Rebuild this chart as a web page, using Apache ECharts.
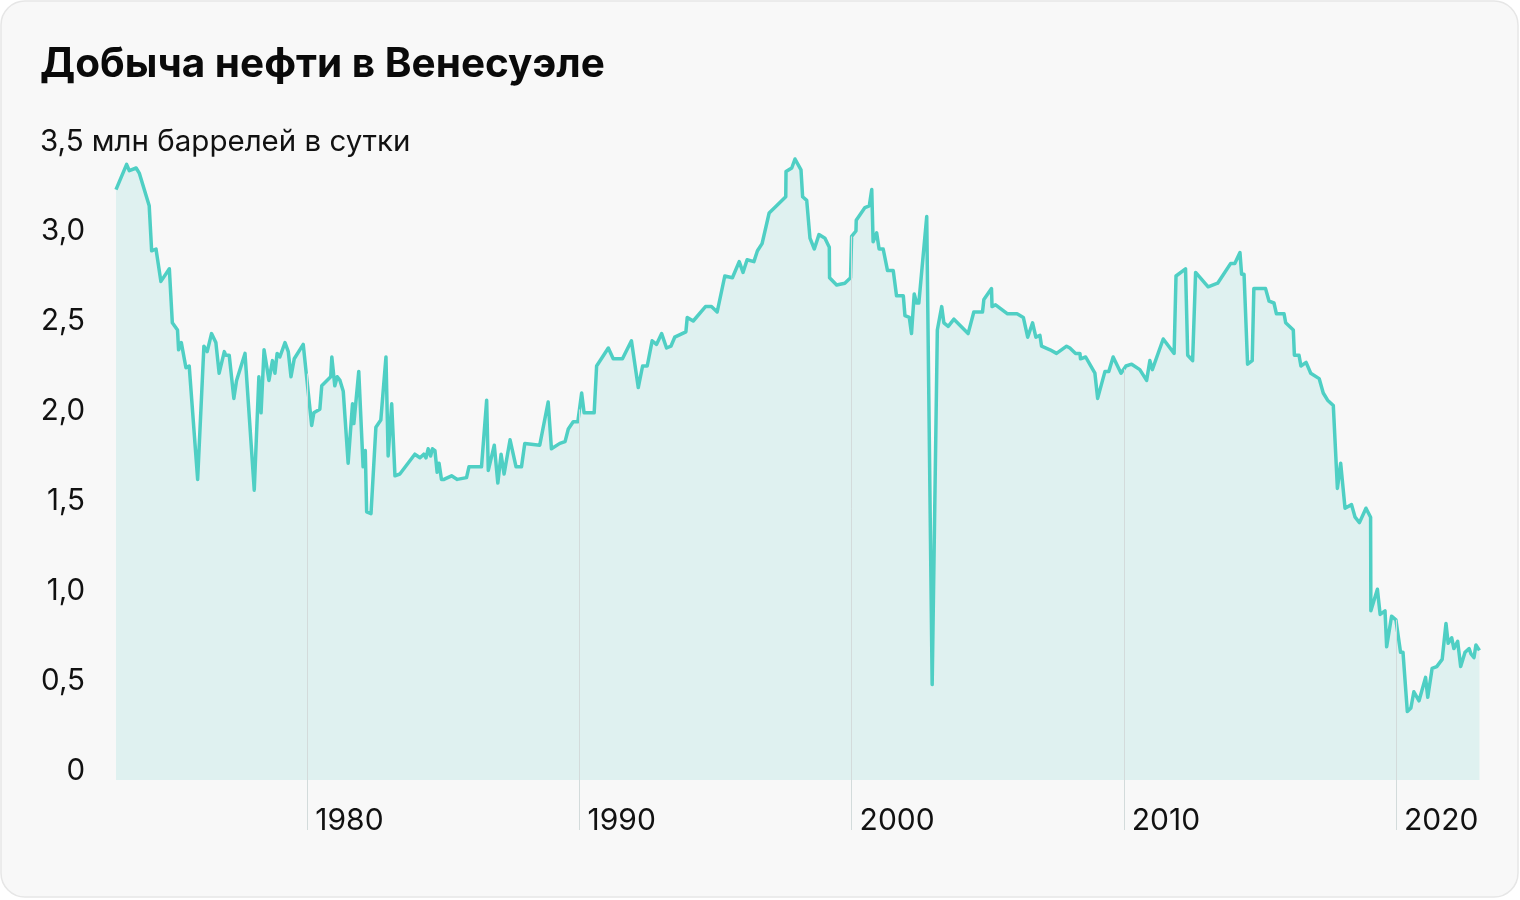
<!DOCTYPE html>
<html>
<head>
<meta charset="utf-8">
<script src="https://cdn.jsdelivr.net/npm/echarts@6/dist/echarts.min.js"></script>
<style>
html,body{margin:0;padding:0;background:#ffffff;}
#chart{width:1520px;height:900px;}
</style>
</head>
<body>
<div id="chart"></div>
<script>
// ---- data ----
const years = [
1972.97,1973.36,1973.46,1973.71,1973.83,1974.19,1974.28,1974.44,1974.62,1974.93,
1975.04,1975.23,1975.27,1975.37,1975.54,1975.66,1975.97,1976.20,1976.32,1976.48,
1976.64,1976.76,1976.95,1977.00,1977.13,1977.30,1977.40,1977.46,1977.71,1978.05,
1978.22,1978.30,1978.41,1978.59,1978.72,1978.81,1978.89,1978.99,1979.18,1979.30,
1979.40,1979.52,1979.85,1979.91,
1980.16,1980.24,1980.46,1980.53,1980.86,1980.90,1981.01,1981.10,1981.20,1981.32,
1981.50,1981.66,1981.71,1981.89,1982.05,1982.13,1982.18,1982.34,1982.52,1982.70,
1982.89,1982.97,1983.10,1983.22,1983.40,1983.95,1984.14,1984.28,1984.36,1984.44,
1984.53,1984.60,1984.69,1984.77,1984.84,1984.93,1985.02,1985.30,1985.51,1985.85,
1985.94,1986.40,1986.59,1986.65,1986.87,1987.00,1987.12,1987.23,1987.45,1987.67,
1987.87,1987.99,1988.54,1988.85,1988.97,1989.28,
1989.47,1989.59,1989.77,1989.94,1990.08,1990.17,1990.54,1990.63,1991.06,1991.24,
1991.58,1991.91,1992.16,1992.32,1992.49,1992.67,1992.83,1993.02,1993.20,1993.36,
1993.50,1993.91,1993.96,1994.18,1994.63,1994.85,1995.06,1995.34,1995.62,1995.87,
1996.01,1996.16,1996.41,1996.54,1996.71,1996.97,1997.58,1997.59,1997.80,1997.92,
1998.14,1998.20,1998.35,1998.47,1998.63,1998.80,
1998.84,1999.02,1999.18,1999.19,1999.45,1999.75,1999.96,2000.00,2000.16,2000.17,
2000.49,2000.65,2000.74,2000.79,2000.92,2001.01,2001.16,2001.32,2001.53,2001.65,
2001.90,2001.96,2002.12,2002.20,2002.30,2002.39,2002.47,2002.76,2002.96,2003.15,
2003.31,2003.39,2003.55,2003.76,2004.28,2004.49,2004.81,2004.86,2005.14,2005.16,
2005.29,2005.73,2006.08,2006.31,2006.47,2006.65,2006.77,2006.92,2006.98,2007.29,
2007.53,
2007.90,2008.02,2008.23,2008.39,2008.41,2008.60,2008.75,2008.94,2009.04,2009.31,
2009.45,2009.61,2009.90,2010.08,2010.29,2010.59,2010.84,2010.96,2011.05,2011.45,
2011.85,2011.92,2012.27,2012.35,2012.53,2012.64,2013.10,2013.45,2013.93,2014.08,
2014.27,2014.33,2014.42,2014.55,2014.72,2014.78,2015.21,2015.34,2015.52,2015.61,
2015.89,
2015.95,2016.23,2016.27,2016.44,2016.51,2016.70,2016.87,2017.18,2017.33,2017.49,
2017.70,2017.85,2017.97,2018.13,2018.37,2018.50,2018.66,2018.90,2019.07,2019.08,
2019.32,2019.42,2019.60,2019.66,2019.84,2020.00,2020.17,2020.26,2020.42,2020.55,
2020.66,2020.85,2021.09,2021.17,2021.33,2021.50,2021.70,2021.84,2021.92,2022.05,
2022.13,2022.27,2022.38,2022.54,2022.69,2022.76,2022.87,2022.94,2023.07
];
const production = [
3.28,3.42,3.385,3.40,3.37,3.19,2.94,2.95,2.77,2.84,
2.54,2.50,2.39,2.43,2.29,2.30,1.67,2.41,2.38,2.48,
2.43,2.26,2.38,2.36,2.36,2.12,2.22,2.23,2.37,1.61,
2.24,2.04,2.39,2.22,2.33,2.26,2.37,2.35,2.43,2.38,
2.24,2.34,2.42,2.42,
1.97,2.04,2.06,2.19,2.24,2.35,2.19,2.24,2.22,2.16,
1.76,2.09,1.98,2.27,1.74,1.83,1.49,1.48,1.96,2.00,
2.35,1.80,2.09,1.69,1.70,1.81,1.79,1.81,1.79,1.84,
1.80,1.84,1.83,1.71,1.76,1.67,1.67,1.69,1.67,1.68,
1.74,1.74,2.11,1.72,1.86,1.65,1.81,1.70,1.89,1.74,
1.74,1.87,1.86,2.10,1.84,1.87,
1.88,1.95,1.99,1.99,2.15,2.04,2.04,2.30,2.40,2.34,
2.34,2.44,2.18,2.30,2.30,2.44,2.42,2.48,2.40,2.41,
2.46,2.49,2.57,2.55,2.63,2.63,2.60,2.80,2.79,2.88,
2.82,2.89,2.88,2.94,2.98,3.15,3.24,3.38,3.40,3.45,
3.39,3.24,3.22,3.01,2.95,3.03,
3.04,3.01,2.96,2.79,2.75,2.76,2.79,3.02,3.05,3.11,
3.18,3.19,3.28,2.99,3.04,2.95,2.95,2.83,2.83,2.69,
2.69,2.58,2.57,2.48,2.70,2.65,2.65,3.13,0.53,2.50,
2.63,2.54,2.52,2.56,2.48,2.60,2.60,2.67,2.73,2.63,
2.64,2.59,2.59,2.57,2.46,2.54,2.46,2.47,2.41,2.39,
2.37,
2.41,2.40,2.37,2.37,2.34,2.35,2.31,2.26,2.12,2.27,
2.27,2.35,2.26,2.30,2.31,2.28,2.22,2.33,2.28,2.45,
2.37,2.80,2.84,2.36,2.33,2.82,2.74,2.76,2.87,2.87,
2.93,2.81,2.81,2.31,2.33,2.73,2.73,2.66,2.65,2.59,
2.59,
2.54,2.50,2.36,2.36,2.30,2.32,2.26,2.23,2.15,2.11,
2.08,1.62,1.76,1.51,1.53,1.46,1.43,1.51,1.46,0.94,
1.06,0.92,0.94,0.74,0.91,0.89,0.71,0.71,0.38,0.40,
0.49,0.44,0.57,0.46,0.62,0.63,0.67,0.87,0.76,0.79,
0.73,0.77,0.63,0.71,0.73,0.70,0.68,0.75,0.72
];
const decadeTicks = [1980, 1990, 2000, 2010, 2020];
const yTicks = [0, 0.5, 1.0, 1.5, 2.0, 2.5, 3.0, 3.5];
const titleText = 'Добыча нефти в Венесуэле';
const unitText = '3,5 млн баррелей в сутки';

// ---- helpers ----
const seriesData = years.map((y, i) => [y, production[i]]);
function valueAt(t) {
  for (let i = 1; i < years.length; i++) {
    if (years[i] >= t) {
      const f = (t - years[i - 1]) / (years[i] - years[i - 1]);
      return production[i - 1] + f * (production[i] - production[i - 1]);
    }
  }
  return production[production.length - 1];
}
const FONT = 'Inter';
const LINE = '#4fcfc4';
const AREA = '#dff1f0';
const GRID = '#d3dbdb';

const chart = echarts.init(document.getElementById('chart'), null, {renderer: 'canvas'});
chart.setOption({
  animation: false,
  backgroundColor: '#ffffff',
  graphic: [
    {type: 'rect', z: -10, shape: {x: 1, y: 1, width: 1517, height: 896, r: 24},
     style: {fill: '#f8f8f8', stroke: '#e6e6e6', lineWidth: 1.5}},
    {type: 'text', left: 40, top: 127, z: 10,
     style: {text: unitText, font: '29.5px ' + FONT, fill: '#111111'}}
  ],
  title: {
    text: titleText, left: 35, top: 39,
    textStyle: {fontFamily: FONT, fontSize: 40.5, fontWeight: 'bold', color: '#0a0a0a'}
  },
  grid: {left: 116, right: 40, top: 150, bottom: 120, containLabel: false},
  xAxis: {
    type: 'value', min: 1972.97, max: 2023.09,
    axisLine: {show: false},
    splitLine: {show: false},
    axisTick: {show: true, customValues: decadeTicks, length: 50, lineStyle: {color: GRID, width: 1}},
    axisLabel: {show: true, customValues: decadeTicks, align: 'left', margin: 26, padding: [0, 0, 0, 8],
      fontFamily: FONT, fontSize: 30, color: '#111111', formatter: v => String(v)}
  },
  yAxis: {
    type: 'value', min: 0, max: 3.5, interval: 0.5,
    axisLine: {show: false}, axisTick: {show: false}, splitLine: {show: false},
    axisLabel: {margin: 31, fontFamily: FONT, fontSize: 29.5, color: '#111111',
      verticalAlign: 'bottom', lineHeight: 18,
      formatter: v => v === 0 ? '0' : (v >= 3.5 ? '' : v.toFixed(1).replace('.', ','))}
  },
  series: [
    {type: 'line', z: 1, data: seriesData, symbol: 'none', silent: true,
     lineStyle: {width: 0, opacity: 0}, areaStyle: {color: AREA, opacity: 1}},
    {type: 'line', z: 2, data: [], symbol: 'none', silent: true,
     markLine: {silent: true, symbol: 'none', label: {show: false},
       lineStyle: {color: GRID, width: 1, type: 'solid'},
       data: decadeTicks.map(t => [{coord: [t, 0]}, {coord: [t, valueAt(t)]}])}},
    {type: 'line', z: 3, data: seriesData, symbol: 'none', silent: true,
     lineStyle: {color: LINE, width: 3.5, join: 'round'}}
  ]
});
</script>
</body>
</html>
